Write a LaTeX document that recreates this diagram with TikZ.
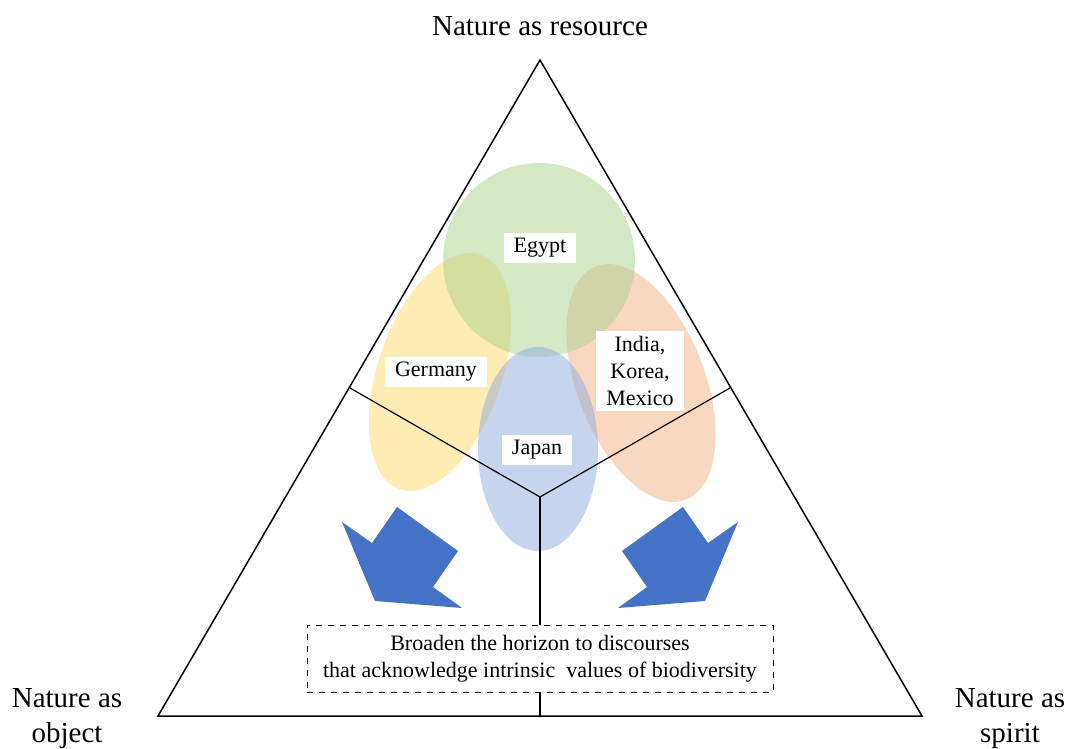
\documentclass[tikz,border=0pt]{standalone}
\usepackage{fontspec}
\setmainfont{Liberation Serif}
\definecolor{egyptgreen}{HTML}{A9D18E}
\definecolor{germanyyellow}{HTML}{FFD966}
\definecolor{indiaorange}{HTML}{F4B183}
\definecolor{japanblue}{HTML}{8FAADC}
\definecolor{arrowblue}{HTML}{4472C4}
\newcommand{\labelsize}{\fontsize{11}{13.5}\selectfont}

\begin{document}
\begin{tikzpicture}[x=0.5pt,y=-0.5pt,
    blob/.style={fill opacity=0.5},
    tag/.style={fill=white,inner xsep=5pt,inner ysep=2.5pt,align=center,font=\labelsize},
    corner/.style={align=center,font=\fontsize{14.5}{17.5}\selectfont}]
  \useasboundingbox (0,0) rectangle (1067,749);
  % corners of the triangle and the centre
  \coordinate (top) at (540,60);
  \coordinate (bl) at (158,716);
  \coordinate (br) at (922,716);
  \coordinate (ctr) at (540,497);
  \coordinate (ml) at (350,388);
  \coordinate (mr) at (730,388);
  \coordinate (mb) at (540,716);
  % overlapping clouds
  \fill[blob,germanyyellow,rotate around={-19:(440,372)}] (440,372) ellipse [x radius=62, y radius=124];
  \fill[blob,indiaorange,rotate around={21:(641,383)}] (641,383) ellipse [x radius=64, y radius=125];
  \fill[blob,egyptgreen] (539,260) ellipse [x radius=96, y radius=97];
  \fill[blob,japanblue] (538,449) ellipse [x radius=60, y radius=102];
  % triangle and its three sectors
  \draw[line width=0.75pt] (top) -- (bl) -- (br) -- cycle;
  \draw[line width=0.6pt] (ctr) -- (ml);
  \draw[line width=0.6pt] (ctr) -- (mr);
  \draw[line width=0.6pt] (ctr) -- (mb);
  % block arrows, the right one mirrored
  \foreach \s in {1,-1}
    \fill[arrowblue,shift={(540,0)},xscale=\s]
      (-198,522) -- (-168,543) -- (-143,507) -- (-82,551) -- (-107,587)
      -- (-78,608) -- (-165,601) -- cycle;
  % country labels
  \node[tag] (egypt) at (540,248) {Egypt};
  \node[tag] (germany) at (436,372) {Germany};
  \node[tag] (india) at (640,371) {India,\\Korea,\\Mexico};
  \node[tag] (japan) at (537,450) {Japan};
  \node[draw,dashed,fill=white,line width=0.5pt,align=center,font=\labelsize,
    minimum width=233pt,minimum height=33.5pt] (broaden) at (540,658.5)
    {Broaden the horizon to discourses\\that acknowledge intrinsic\ \ values of biodiversity};
  % corner titles
  \node[corner] (resource) at (540,26) {Nature as resource};
  \node[corner] (object) at (67,719) {Nature as\\object};
  \node[corner] (spirit) at (1010,719) {Nature as\\spirit};
\end{tikzpicture}
\end{document}
